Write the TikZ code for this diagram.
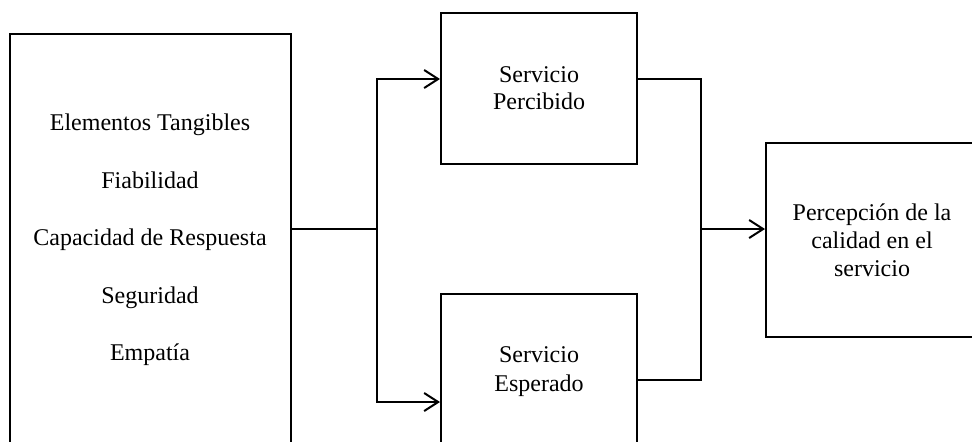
\documentclass[tikz,border=0pt]{standalone}
\usepackage{fontspec}
\setmainfont{Liberation Serif}
\usetikzlibrary{arrows.meta}

\begin{document}
\begin{tikzpicture}[x=0.5pt, y=-0.5pt, line width=1pt,
		caja/.style={draw, align=center, inner sep=0pt},
		flecha/.style={-{Straight Barb[length=7pt, width=9pt, line width=1pt]}}]
					\useasboundingbox (0,0) rectangle (972,441);
					\clip (0,0) rectangle (972,441);

					% cajas
					\node[caja, minimum width=140.5pt, minimum height=206pt,
						font=\fontsize{12}{28.75}\selectfont] (factores) at (150,240)
						{Elementos Tangibles\\Fiabilidad\\Capacidad de Respuesta\\Seguridad\\Empatía};
					\node[caja, minimum width=98pt, minimum height=75.5pt,
						font=\fontsize{12}{13.5}\selectfont] (percibido) at (539,88.5)
						{Servicio\\Percibido};
					\node[caja, minimum width=98pt, minimum height=78pt,
						font=\fontsize{12}{14.5}\selectfont] (esperado) at (539,372)
						{Servicio\\Esperado};
					\node[caja, minimum width=106pt, minimum height=97pt,
						font=\fontsize{12}{14}\selectfont] (percepcion) at (872,240)
						{Percepción de la\\calidad en el\\servicio};

					% niveles de las lineas
					\coordinate (nivelA) at (0,79);
					\coordinate (nivelB) at (0,402);
					\coordinate (nivelC) at (0,380);
					\coordinate (nivelM) at (0,229);
					\coordinate (bifurca) at (377,229);
					\coordinate (une) at (701,229);

					\draw (factores.east |- nivelM) -- (bifurca);
					\draw[flecha] (bifurca) |- (percibido.west |- nivelA);
					\draw[flecha] (bifurca) |- (esperado.west |- nivelB);

					\draw (percibido.east |- nivelA) -| (une);
					\draw (esperado.east |- nivelC) -| (une);
					\draw[flecha] (une) -- (percepcion.west |- nivelM);
				\end{tikzpicture}
\end{document}
